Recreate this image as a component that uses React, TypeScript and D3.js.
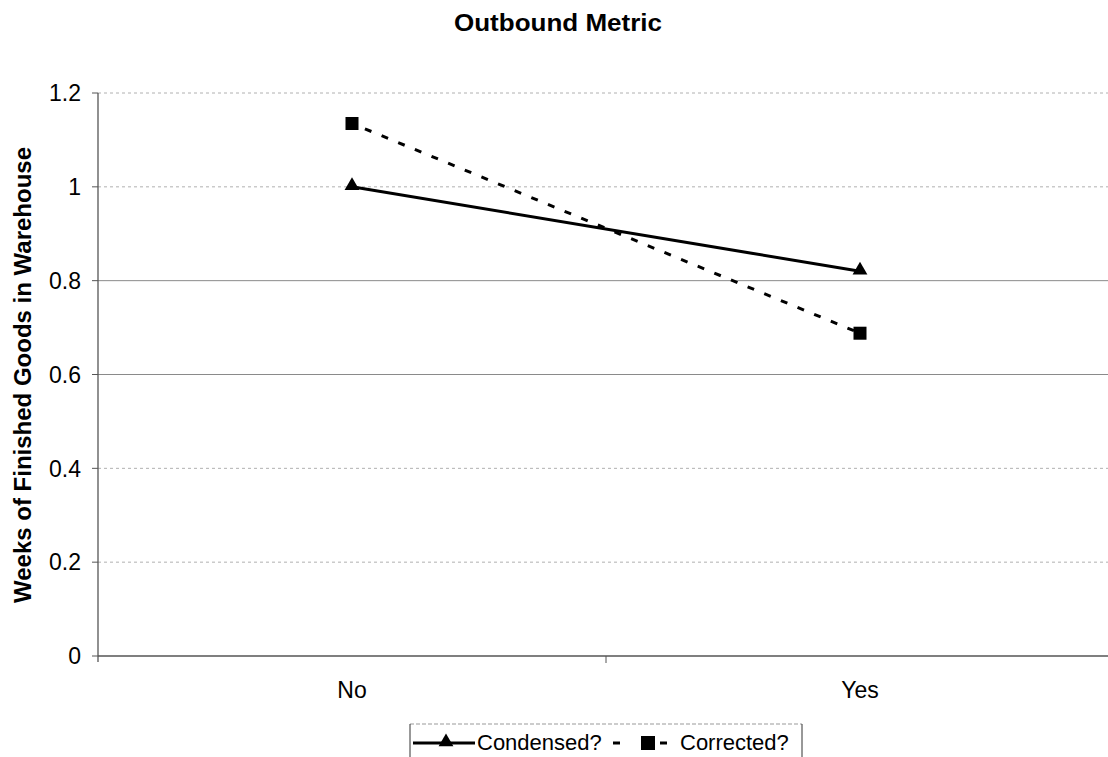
import React from "react";
import * as d3 from "d3";

const categories = ["No", "Yes"];
const condensed = [1.0, 0.82];
const corrected = [1.135, 0.688];
const yTicks = [0, 0.2, 0.4, 0.6, 0.8, 1, 1.2];
const seriesNames = ["Condensed?", "Corrected?"];

const W = 1108;
const H = 757;
const plot = { left: 98, right: 1114, top: 93, bottom: 656 };
const FONT = "'Liberation Sans', Arial, sans-serif";

export default function App() {
  const x = d3
    .scaleBand<string>()
    .domain(categories)
    .range([plot.left, plot.right]);
  const y = d3
    .scaleLinear()
    .domain([0, 1.2])
    .range([plot.bottom, plot.top]);

  const cx = (c: string) => (x(c) ?? 0) + x.bandwidth() / 2;
  const line = d3
    .line<number>()
    .x((_, i) => cx(categories[i]))
    .y((d) => y(d));

  const tri = d3.symbol().type(d3.symbolTriangle).size(95)();
  const y0 = y(0);
  const strong = new Set([0.6, 0.8]);

  return (
    <svg
      width={W}
      height={H}
      style={{ position: "absolute", left: 0, top: 0, background: "#fff" }}
      fontFamily={FONT}
    >
      <text
        x={558}
        y={31}
        textAnchor="middle"
        fontSize={24}
        fontWeight="bold"
        textLength={208}
        lengthAdjust="spacingAndGlyphs"
      >
        Outbound Metric
      </text>

      {/* horizontal gridlines */}
      {yTicks
        .filter((t) => t > 0)
        .map((t) => (
          <line
            key={t}
            x1={plot.left}
            x2={W}
            y1={y(t)}
            y2={y(t)}
            stroke={strong.has(t) ? "#8a8a8a" : "#b0b0b0"}
            strokeWidth={1}
            strokeDasharray={strong.has(t) ? "none" : "3 3"}
          />
        ))}

      {/* axes */}
      <line x1={plot.left} x2={plot.left} y1={y(1.2)} y2={y0 + 6} stroke="#555" strokeWidth={1.3} />
      <line x1={plot.left} x2={W} y1={y0} y2={y0} stroke="#555" strokeWidth={1.3} />
      {yTicks.map((t) => (
        <g key={t}>
          <line x1={plot.left - 6} x2={plot.left} y1={y(t)} y2={y(t)} stroke="#555" />
          <text x={81} y={y(t)} dy="0.36em" textAnchor="end" fontSize={23}>
            {t === 0 || t === 1 ? String(t) : t.toFixed(1)}
          </text>
        </g>
      ))}
      {categories.slice(1).map((c) => (
        <line key={c} x1={x(c)} x2={x(c)} y1={y0} y2={y0 + 7} stroke="#555" />
      ))}
      {categories.map((c) => (
        <text key={c} x={cx(c)} y={y0 + 42} textAnchor="middle" fontSize={23}>
          {c}
        </text>
      ))}

      <text
        transform={`translate(31,375) rotate(-90)`}
        textAnchor="middle"
        fontSize={24}
        fontWeight="bold"
        textLength={456}
        lengthAdjust="spacingAndGlyphs"
      >
        Weeks of Finished Goods in Warehouse
      </text>

      {/* series */}
      <path d={line(condensed) ?? ""} fill="none" stroke="#000" strokeWidth={3} />
      <path
        d={line(corrected) ?? ""}
        fill="none"
        stroke="#000"
        strokeWidth={3}
        strokeDasharray="7 11"
        strokeDashoffset={-14}
      />
      {condensed.map((v, i) => (
        <path
          key={i}
          d={tri ?? ""}
          transform={`translate(${cx(categories[i])},${y(v) - 1})`}
          fill="#000"
        />
      ))}
      {corrected.map((v, i) => (
        <rect
          key={i}
          x={cx(categories[i]) - 6.5}
          y={y(v) - 6.5}
          width={13}
          height={13}
          fill="#000"
        />
      ))}

      {/* legend */}
      <g>
        <line x1={410} x2={802} y1={724} y2={724} stroke="#999" strokeDasharray="4 2" />
        <line x1={410} x2={410} y1={724} y2={757} stroke="#333" />
        <line x1={802} x2={802} y1={724} y2={757} stroke="#333" />
        <line x1={413} x2={475} y1={743} y2={743} stroke="#000" strokeWidth={3} />
        <path d={tri ?? ""} transform="translate(446,742)" fill="#000" />
        <text x={477} y={750} fontSize={22}>
          {seriesNames[0]}
        </text>
        <line x1={613} x2={620} y1={743} y2={743} stroke="#000" strokeWidth={3} />
        <rect x={641} y={736} width={14} height={14} fill="#000" />
        <line x1={660} x2={667} y1={743} y2={743} stroke="#000" strokeWidth={3} />
        <text x={680} y={750} fontSize={22}>
          {seriesNames[1]}
        </text>
      </g>
    </svg>
  );
}
